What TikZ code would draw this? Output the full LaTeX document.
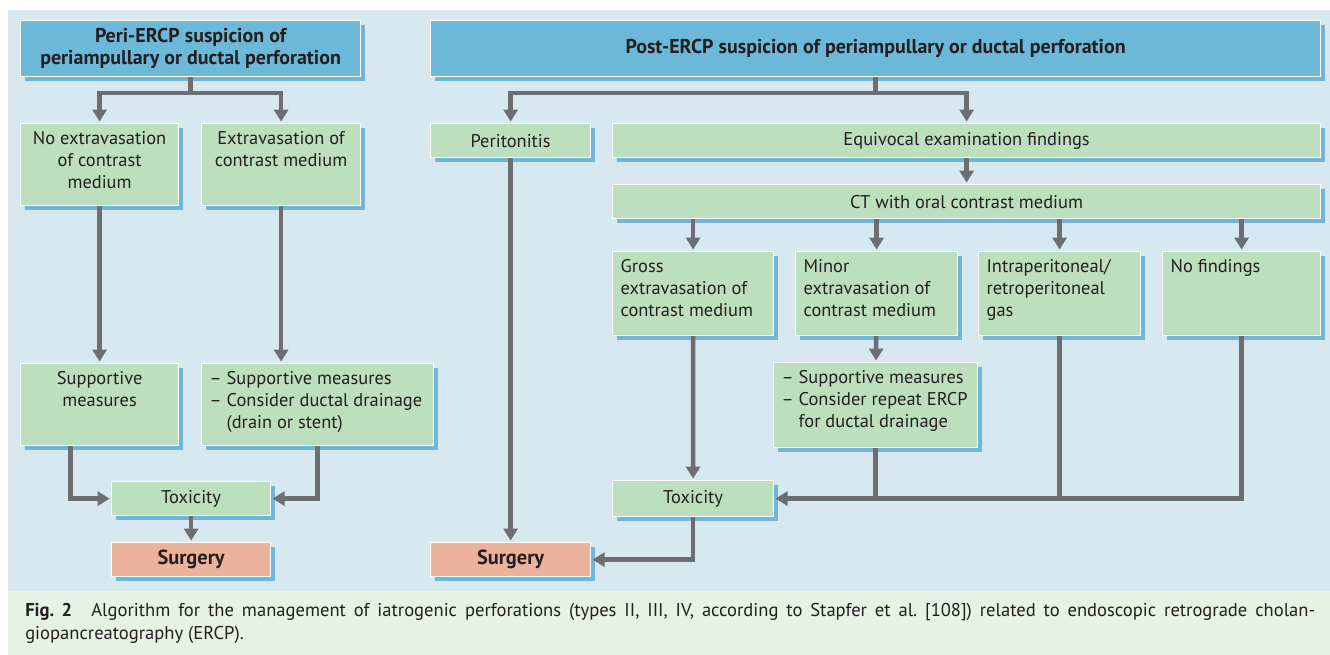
\documentclass[tikz,border=0pt]{standalone}
\usepackage{fontspec}
\setmainfont{PT Sans}
\usetikzlibrary{arrows.meta,positioning,shadows,calc}
\definecolor{panelblue}{HTML}{D7E8F1}
\definecolor{capgreen}{HTML}{E7F2E5}
\definecolor{titleblue}{HTML}{6CB8D9}
\definecolor{boxgreen}{HTML}{BCDFBE}
\definecolor{opsalmon}{HTML}{EBB39B}
\definecolor{arrowgrey}{HTML}{6D6E71}
\definecolor{shadowblue}{HTML}{5AA9D2}
\definecolor{textdark}{HTML}{231F20}
\newlength\pxu
\setlength\pxu{0.025cm}
\newcommand{\boxfont}{\fontsize{13.1}{15.6}\selectfont}
\newcommand{\headfont}{\fontsize{14.2}{15.2}\selectfont\bfseries}
\newcommand{\cell}[4][\centering]{\parbox[c][\dimexpr#3\pxu-16\pxu\relax][t]{\dimexpr#2\pxu-16\pxu\relax}{#1#4}}

\begin{document}
\begin{tikzpicture}[x=0.025cm,y=-0.025cm,font=\boxfont,text=textdark,
  wh/.style 2 args={minimum width=#1*0.025cm,minimum height=#2*0.025cm},
  box/.style={anchor=north west,fill=boxgreen,draw=white,line width=0.03cm,
    inner xsep=0.2cm,inner ysep=0.2cm,align=center,
    drop shadow={shadow xshift=0.1cm,shadow yshift=-0.1cm,fill=shadowblue,opacity=0.8}},
  title/.style={box,inner ysep=0.1cm,fill=titleblue,font=\headfont},
  op/.style={box,inner ysep=0.1cm,fill=opsalmon,font=\fontsize{14.5}{16}\selectfont\bfseries},
  line/.style={draw=arrowgrey,line width=0.1125cm},
  arr/.style={line,-{Triangle[length=0.3cm,width=0.35cm]},shorten >=1pt}]
  \useasboundingbox (0,0) rectangle (1330,655);
  \fill[panelblue] (8,10) rectangle (1330,591);
  \fill[capgreen] (8,591) rectangle (1330,655);

  % peri-ERCP
  \node[title,wh={340}{56}] (peri) at (20,20) {Peri-ERCP suspicion of\\periampullary or ductal perforation};
  \node[box] (noext) at (20,123) {\cell{158}{82}{No extravasation\\of contrast\\medium}};
  \node[box] (ext) at (201,123) {\cell{159}{82}{Extravasation of\\contrast medium}};
  \node[box] (supl) at (20,363) {\cell{158}{82}{Supportive\\measures}};
  \node[box] (supr) at (201,363) {\cell[\raggedright]{232}{82}{-- Supportive measures\\-- Consider ductal drainage\\\phantom{-- }(drain or stent)}};
  \node[box,wh={159}{34}] (toxl) at (111,481) {Toxicity};
  \node[op,wh={159}{34}] (surgl) at (111,542) {Surgery};

  % post-ERCP
  \node[title,wh={890}{56}] (post) at (430,20) {Post-ERCP suspicion of periampullary or ductal perforation};
  \node[box,wh={160}{34}] (perit) at (430,123) {Peritonitis};
  \node[box,wh={708}{34}] (equiv) at (612,123) {Equivocal examination findings};
  \node[box,wh={708}{34}] (ct) at (612,184) {CT with oral contrast medium};
  \node[box] (gross) at (612,251) {\cell[\raggedright]{161}{84}{Gross\\extravasation of\\contrast medium}};
  \node[box] (minor) at (795,251) {\cell[\raggedright]{162}{84}{Minor\\extravasation of\\contrast medium}};
  \node[box] (intra) at (978,251) {\cell[\raggedright]{162}{84}{Intraperitoneal/\\retroperitoneal\\gas}};
  \node[box] (nofind) at (1162,251) {\cell[\raggedright]{158}{84}{No findings}};
  \node[box] (supr2) at (773,362) {\cell[\raggedright]{204}{85}{-- Supportive measures\\-- Consider repeat ERCP\\\phantom{-- }for ductal drainage}};
  \node[box,wh={161}{36}] (toxr) at (612,480) {Toxicity};
  \node[op,wh={160}{34}] (surgr) at (430,542) {Surgery};

  \draw[arr] (peri.south) -- ++(0,16) -| (noext.north);
  \draw[arr] (peri.south) -- ++(0,16) -| (ext.north);
  \draw[arr] (noext.south) -- (supl.north);
  \draw[arr] (ext.south) -- (ext.south |- supr.north);
  \draw[arr] ([xshift=-0.725cm]supl.south) |- (toxl.west);
  \draw[arr] (supr.south) |- (toxl.east);
  \draw[arr] (toxl) -- (surgl);

  \draw[arr] (post.south) -- ++(0,16) -| (perit.north);
  \draw[arr] (post.south) -- ++(0,16) -| (equiv.north);
  \draw[arr] (equiv) -- (ct);
  \foreach \n in {gross,minor,intra,nofind}
    \draw[arr] (ct.south -| \n.north) -- (\n.north);
  \draw[arr] (gross) -- (toxr);
  \draw[arr] (minor) -- (supr2);
  \draw[arr] (nofind.south) |- (toxr.east);
  \draw[line] (intra.south) -- (intra.south |- toxr.east);
  \draw[line] (supr2.south) -- (supr2.south |- toxr.east);
  \draw[arr] (toxr.south) |- (surgr.east);
  \draw[arr] (perit) -- (surgr);

  \node[anchor=north west,text width=1290*0.025cm,align=justify,inner sep=0,
    font=\fontsize{13.2}{16.5}\selectfont] (caption) at (25,603)
    {\textbf{Fig.~2}\hspace{0.6em} Algorithm for the management of iatrogenic perforations (types II, III, IV, according to Stapfer et al.\ [108]) related to endoscopic retrograde cholan-\linebreak giopancreatography (ERCP).};
\end{tikzpicture}
\end{document}
